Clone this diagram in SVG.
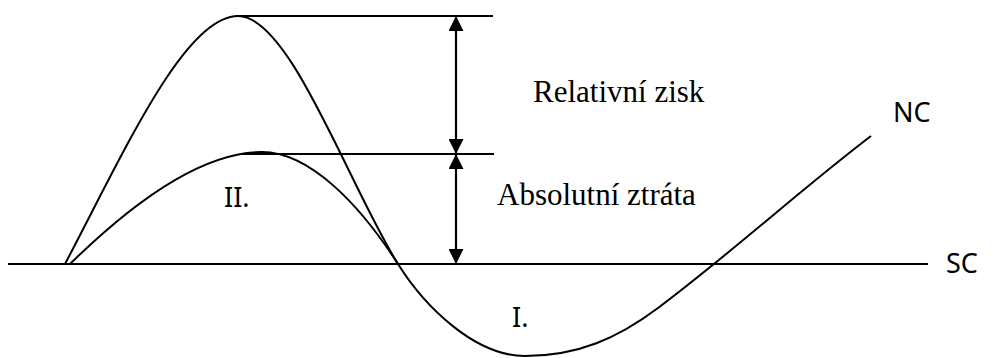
<svg xmlns="http://www.w3.org/2000/svg" width="999" height="358" viewBox="0 0 999 358">
  <style>
    .curve { fill: none; stroke: #000; stroke-width: 2; }
    .rule { fill: none; stroke: #000; stroke-width: 2; }
    .dim { fill: none; stroke: #000; stroke-width: 2.2; }
    .serif { font-family: "Liberation Serif", "Times New Roman", serif; font-size: 31px; fill: #000; }
    .sans { font-family: "Noto Sans", "Open Sans", sans-serif; font-size: 27px; fill: #000; }
  </style>
  <defs>
    <marker id="arrow" viewBox="0 0 15 15" refX="15" refY="7.5" markerWidth="15" markerHeight="15" markerUnits="userSpaceOnUse" orient="auto-start-reverse">
      <path d="M0,0 L15,7.5 L0,15 z" fill="#000"/>
    </marker>
  </defs>
  <rect width="999" height="358" fill="#fff"/>

  <g id="axis">
    <line class="rule" x1="8" y1="264" x2="928" y2="264" stroke-width="2.5"/>
    <text class="sans" x="946" y="273">SC</text>
  </g>

  <g id="curve-nc">
    <path class="curve" d="M65,264 C125,150 185,16 238,16 C290,16 348,184 398,264 C425,307 475,356 525,356 C578,356 618,338 658,308 C735,250 800,190 871,136"/>
    <text class="sans" x="893" y="122">NC</text>
  </g>

  <g id="curve-small">
    <path class="curve" d="M70,264 C130,205 200,152 262,152 C310,152 360,205 398,264"/>
  </g>

  <g id="guides">
    <line class="rule" x1="236" y1="16" x2="493" y2="16"/>
    <line class="rule" x1="242" y1="154" x2="494" y2="154"/>
  </g>

  <g id="connectors">
    <line class="dim" x1="456" y1="16" x2="456" y2="154" marker-start="url(#arrow)" marker-end="url(#arrow)"/>
    <line class="dim" x1="456" y1="154" x2="456" y2="264" marker-start="url(#arrow)" marker-end="url(#arrow)"/>
  </g>

  <g id="label-relative">
    <text class="serif" x="533" y="102">Relativní zisk</text>
  </g>
  <g id="label-absolute">
    <text class="serif" x="497" y="205">Absolutní ztráta</text>
  </g>
  <g id="label-II">
    <text class="sans" x="224" y="207">II.</text>
  </g>
  <g id="label-I">
    <text class="sans" x="512" y="327">I.</text>
  </g>
</svg>
